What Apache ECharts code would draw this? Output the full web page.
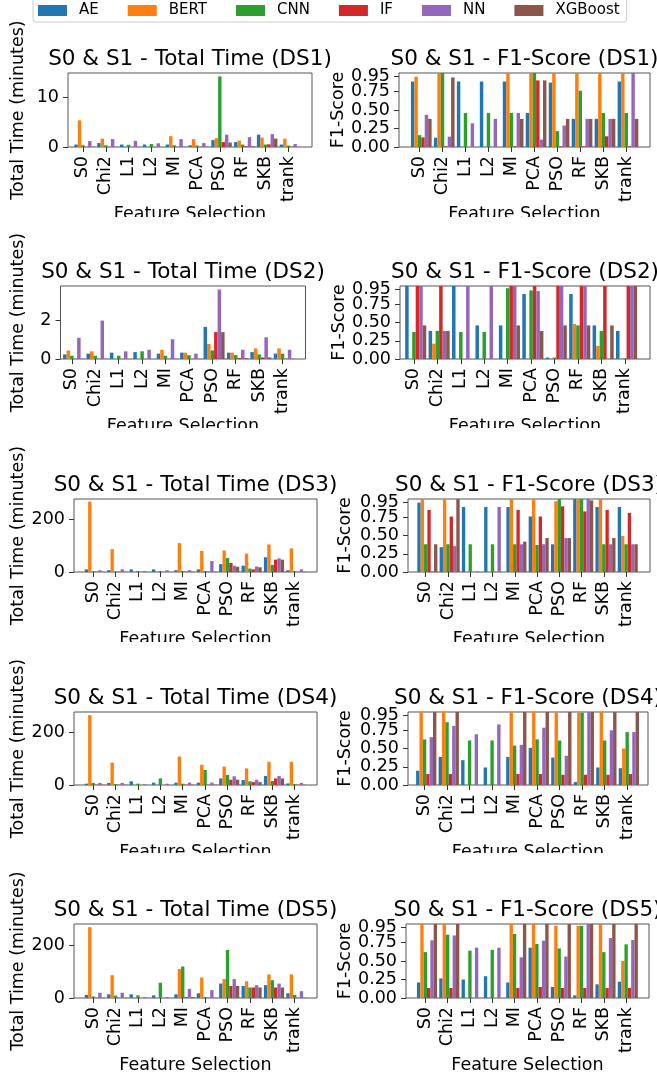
<!DOCTYPE html>
<html>
<head>
<meta charset="utf-8">
<title>S0 &amp; S1 - Total Time / F1-Score</title>
<script src="https://cdn.jsdelivr.net/npm/echarts@6/dist/echarts.min.js"></script>
<style>
    body { margin: 0; background: #fff; }
    .row { position: absolute; left: 0; width: 657px; }
</style>
</head>
<body>
<!-- later rows sit on top of the earlier ones and hide their overflow -->
<div id="row0" class="row" style="top:0;height:240px;"></div>
<div id="row1" class="row" style="top:217px;height:235px;"></div>
<div id="row2" class="row" style="top:428px;height:235px;"></div>
<div id="row3" class="row" style="top:642px;height:235px;"></div>
<div id="row4" class="row" style="top:853px;height:223px;"></div>
<script>
    var categories = ['S0', 'Chi2', 'L1', 'L2', 'MI', 'PCA', 'PSO', 'RF', 'SKB', 'trank'];
    var methods = ['AE', 'BERT', 'CNN', 'IF', 'NN', 'XGBoost'];
    var colors = ['#1f77b4', '#ff7f0e', '#2ca02c', '#d62728', '#9467bd', '#8c564b'];

    // total time in minutes, one line per method (AE, BERT, CNN, IF, NN, XGBoost)
    var ds1Time = [
        [0.5, 0.8, 0.5, 0.5, 0.5, 0.35, 1.4, 1.0, 2.5, 0.5],
        [5.4, 1.7, 0, 0, 2.2, 1.6, 1.8, 1.3, 1.9, 1.7],
        [0.35, 0.35, 0.45, 0.6, 0.35, 0.3, 14.3, 0.5, 0.5, 0.3],
        [0.03, 0.03, 0, 0, 0.03, 0.03, 1.0, 0.15, 0.55, 0.03],
        [1.2, 1.6, 1.25, 0.75, 1.6, 0.8, 2.5, 2.0, 2.6, 0.6],
        [0.03, 0.03, 0, 0, 0.03, 0.03, 0.9, 0.15, 1.7, 0.03]
    ];
    var ds2Time = [
        [0.24, 0.28, 0.33, 0.36, 0.28, 0.33, 1.67, 0.33, 0.36, 0.28],
        [0.45, 0.4, 0, 0, 0.48, 0.33, 0.78, 0.33, 0.55, 0.55],
        [0.17, 0.17, 0.17, 0.4, 0.17, 0.2, 0.45, 0.2, 0.24, 0.28],
        [0.01, 0.01, 0, 0, 0.01, 0.01, 1.4, 0.05, 0.08, 0.01],
        [1.1, 2.0, 0.4, 0.48, 1.03, 0.28, 3.62, 0.48, 1.13, 0.48],
        [0.01, 0.01, 0, 0, 0.01, 0.01, 1.4, 0.05, 0.08, 0.01]
    ];
    var ds3Time = [
        [10, 7, 10, 10, 7, 10, 30, 24, 56, 7],
        [268, 87, 0, 0, 110, 80, 82, 70, 105, 90],
        [2, 2, 4, 4, 4, 4, 53, 13, 27, 4],
        [1, 1, 0, 0, 1, 1, 35, 10, 47, 1],
        [7, 10, 4, 7, 7, 42, 24, 21, 52, 10],
        [1, 1, 0, 0, 1, 1, 20, 18, 47, 1]
    ];
    var ds4Time = [
        [5, 8, 14, 9, 9, 9, 25, 19, 34, 6],
        [265, 85, 0, 0, 108, 77, 70, 63, 88, 88],
        [8, 3, 5, 25, 5, 57, 38, 14, 15, 3],
        [1, 1, 0, 0, 1, 1, 20, 11, 25, 1],
        [8, 8, 3, 5, 9, 9, 33, 20, 34, 8],
        [1, 1, 0, 0, 1, 1, 20, 11, 25, 1]
    ];
    var ds5Time = [
        [12, 14, 14, 10, 14, 18, 55, 46, 49, 18],
        [270, 87, 0, 0, 110, 78, 72, 64, 90, 90],
        [6, 9, 10, 58, 120, 4, 183, 40, 68, 12],
        [1, 1, 0, 0, 4, 1, 46, 40, 40, 1],
        [20, 20, 4, 4, 35, 30, 72, 49, 55, 26],
        [1, 1, 0, 0, 4, 1, 46, 40, 40, 1]
    ];

    // F1-score, same layout
    var ds1F1 = [
        [0.885, 0.125, 0.885, 0.885, 0.885, 0.46, 0.87, 0.38, 0.38, 0.885],
        [0.95, 1.0, 0, 0, 1.0, 1.0, 1.0, 1.0, 1.0, 1.0],
        [0.16, 1.0, 0.46, 0.46, 0.46, 1.0, 0.215, 0.76, 0.46, 0.46],
        [0.13, 0.01, 0, 0, 0.01, 0.9, 0.01, 0.01, 0.145, 0.01],
        [0.435, 0.14, 0.32, 0.38, 0.46, 0.1, 0.29, 0.38, 0.38, 1.0],
        [0.38, 0.94, 0, 0, 0.38, 0.9, 0.38, 0.38, 0.38, 0.38]
    ];
    var ds2F1 = [
        [1.0, 0.385, 1.0, 0.46, 0.46, 0.89, 0.02, 0.89, 0.46, 0.385],
        [0, 0.21, 0, 0, 0, 0, 0, 0.48, 0.18, 0],
        [0.37, 0.385, 0.37, 0.37, 0.97, 0.94, 0.02, 0.46, 0.385, 0.01],
        [1.0, 1.0, 0, 0, 1.0, 1.0, 1.0, 1.0, 1.0, 1.0],
        [1.0, 0.385, 1.0, 1.0, 1.0, 0.93, 1.0, 1.0, 0, 1.0],
        [0.46, 0.385, 0, 0, 0.46, 0.385, 0.46, 0.46, 0.46, 1.0]
    ];
    var ds3F1 = [
        [0.95, 0.34, 0.89, 0.89, 0.89, 0.76, 0.38, 1.0, 0.89, 0.89],
        [1.0, 1.0, 0, 0, 1.0, 1.0, 0.97, 1.0, 1.0, 0.495],
        [0.38, 0.38, 0.38, 0.38, 0.38, 0.37, 1.0, 1.0, 0.38, 0.38],
        [0.85, 0.76, 0, 0, 0.85, 0.76, 0.9, 0.83, 0.85, 0.81],
        [0.01, 0.355, 0.01, 0.89, 0.38, 0.38, 0.465, 1.0, 0.38, 0.38],
        [0.38, 1.0, 0, 0, 0.415, 0.465, 0.465, 0.98, 0.465, 0.38]
    ];
    var ds4F1 = [
        [0.195, 0.385, 0.34, 0.24, 0.385, 0.51, 0.375, 0.04, 0.24, 0.23],
        [1.0, 1.0, 0, 0, 1.0, 1.0, 0.99, 0.99, 1.0, 0.5],
        [0.625, 0.86, 0.61, 0.61, 0.54, 0.625, 0.61, 0.99, 0.61, 0.725],
        [0.15, 0.15, 0, 0, 0.15, 0.15, 0.14, 0.14, 0.14, 0.15],
        [0.655, 0.81, 0.695, 0.83, 0.55, 0.785, 0.4, 1.0, 0.75, 0.725],
        [1.0, 1.0, 0, 0, 1.0, 1.0, 1.0, 1.0, 1.0, 1.0]
    ];
    var ds5F1 = [
        [0.21, 0.265, 0.25, 0.295, 0.21, 0.68, 0.15, 0.035, 0.185, 0.22],
        [1.0, 1.0, 0, 0, 1.0, 1.0, 0.975, 0.975, 1.0, 0.5],
        [0.62, 0.855, 0.64, 0.65, 0.865, 0.73, 0.67, 0.975, 0.62, 0.725],
        [0.135, 0.135, 0, 0, 0.135, 0.15, 0.135, 0.135, 0.135, 0.135],
        [0.78, 0.845, 0.68, 0.68, 0.55, 0.775, 0.56, 1.0, 0.81, 0.785],
        [1.0, 1.0, 0, 0, 1.0, 1.0, 1.0, 1.0, 1.0, 1.0]
    ];

    var timeTicks = [[0, 10], [0, 2], [0, 200], [0, 200], [0, 200]];
    var timeMax = [15, 3.8, 278, 277, 282];
    var f1Ticks = [0, 0.25, 0.5, 0.75, 0.95];
    var dsNames = ['DS1', 'DS2', 'DS3', 'DS4', 'DS5'];

    var timeData = [ds1Time, ds2Time, ds3Time, ds4Time, ds5Time];
    var f1Data = [ds1F1, ds2F1, ds3F1, ds4F1, ds5F1];

    // plot boxes inside each row (px), x range of the bar axis
    var rows = [
        {top: 73, h: 74, L: {x: 68, w: 244, min: -0.73, max: 9.965, gap: 50}, R: {x: 399, w: 251, min: -0.97, max: 9.96, gap: 57.5}},
        {top: 69, h: 73, L: {x: 60.5, w: 245, min: -0.56, max: 9.906, gap: 42.5}, R: {x: 400, w: 250, min: -0.67, max: 10.0, gap: 59}},
        {top: 71, h: 73, L: {x: 74, w: 243, min: -0.93, max: 9.92, gap: 56}, R: {x: 408, w: 242, min: -0.87, max: 10.0, gap: 63}},
        {top: 70, h: 73, L: {x: 74, w: 243, min: -0.93, max: 9.92, gap: 56}, R: {x: 408, w: 240, min: -0.81, max: 9.85, gap: 63}},
        {top: 71, h: 74, L: {x: 74, w: 243, min: -0.93, max: 9.92, gap: 56}, R: {x: 406, w: 243, min: -0.94, max: 9.95, gap: 61}}
    ];

    var FONT = 'DejaVu Sans';
    var tickPos = categories.map(function (c, i) { return i - 0.075; });

    function makeGrid(box, r) {
        return {left: box.x, top: r.top, width: box.w, height: r.h, show: true,
            borderColor: '#555', borderWidth: 1, backgroundColor: 'transparent'};
    }

    function makeX(g, box) {
        return {
            type: 'value', gridIndex: g, min: box.min, max: box.max,
            axisLine: {show: false, onZero: false}, splitLine: {show: false},
            axisTick: {show: true, length: 5, customValues: tickPos, lineStyle: {color: '#333'}},
            axisLabel: {
                customValues: tickPos, rotate: 90, margin: 9, fontSize: 17.5, color: '#000', fontFamily: FONT,
                hideOverlap: false, showMinLabel: true, showMaxLabel: true,
                formatter: function (v) { return categories[Math.round(v)]; }
            },
            name: 'Feature Selection', nameLocation: 'middle', nameGap: 65,
            nameTextStyle: {fontSize: 17.5, color: '#000', fontFamily: FONT, verticalAlign: 'middle'}
        };
    }

    function makeY(g, max, ticks, name, gap, fmt) {
        return {
            type: 'value', gridIndex: g, position: 'left', offset: 0, min: 0, max: max,
            axisLine: {show: false, onZero: false}, splitLine: {show: false},
            axisTick: {show: true, length: 5, customValues: ticks, lineStyle: {color: '#333'}},
            axisLabel: {customValues: ticks, margin: 9, fontSize: 17.5, color: '#000', fontFamily: FONT,
                hideOverlap: false, showMinLabel: true, showMaxLabel: true, formatter: fmt},
            name: name, nameLocation: 'middle', nameRotate: 90, nameGap: gap,
            nameTextStyle: {fontSize: 17.5, color: '#000', fontFamily: FONT, verticalAlign: 'middle', align: 'center'}
        };
    }

    function makeSeries(values, g, yIdx) {
        return methods.map(function (m, k) {
            return {
                name: m, type: 'bar', xAxisIndex: g, yAxisIndex: yIdx,
                barWidth: '15%', barGap: '0%',
                itemStyle: {color: colors[k]},
                data: values[k].map(function (v, i) { return [i, v]; })
            };
        });
    }

    function title(text, box, r) {
        return {
            type: 'text', x: box.x + box.w / 2, y: r.top - 14,
            style: {text: text, fontSize: 21.5, fontFamily: FONT, fill: '#000', align: 'center', verticalAlign: 'middle'}
        };
    }

    var f1Fmt = function (v) { return v.toFixed(2); };

    rows.forEach(function (r, d) {
        var chart = echarts.init(document.getElementById('row' + d), null, {renderer: 'canvas'});
        // the 0.95 label sits on its own axis so it is not dropped for being close to 0.75
        var f1Top = makeY(1, 1.0, f1Ticks.slice(4), '', 0, f1Fmt);
        var option = {
            animation: false,
            backgroundColor: '#fff',
            textStyle: {fontFamily: FONT},
            grid: [makeGrid(r.L, r), makeGrid(r.R, r)],
            xAxis: [makeX(0, r.L), makeX(1, r.R)],
            yAxis: [
                makeY(0, timeMax[d], timeTicks[d], 'Total Time (minutes)', r.L.gap, function (v) { return String(v); }),
                makeY(1, 1.0, f1Ticks.slice(0, 4), 'F1-Score', r.R.gap, f1Fmt),
                f1Top
            ],
            graphic: [
                title('S0 & S1 - Total Time (' + dsNames[d] + ')', r.L, r),
                title('S0 & S1 - F1-Score (' + dsNames[d] + ')', r.R, r)
            ],
            series: makeSeries(timeData[d], 0, 0).concat(makeSeries(f1Data[d], 1, 1))
        };
        if (d === 0) {
            option.legend = {
                data: methods, left: 33, top: -5, icon: 'rect',
                itemWidth: 29, itemHeight: 11, itemGap: 29,
                padding: [8, 7, 4, 5], borderColor: '#ccc', borderWidth: 1, borderRadius: 3,
                backgroundColor: '#fff',
                textStyle: {fontSize: 15, color: '#000', fontFamily: FONT, padding: [0, 0, 0, 7]}
            };
        }
        chart.setOption(option);
    });
</script>
</body>
</html>
